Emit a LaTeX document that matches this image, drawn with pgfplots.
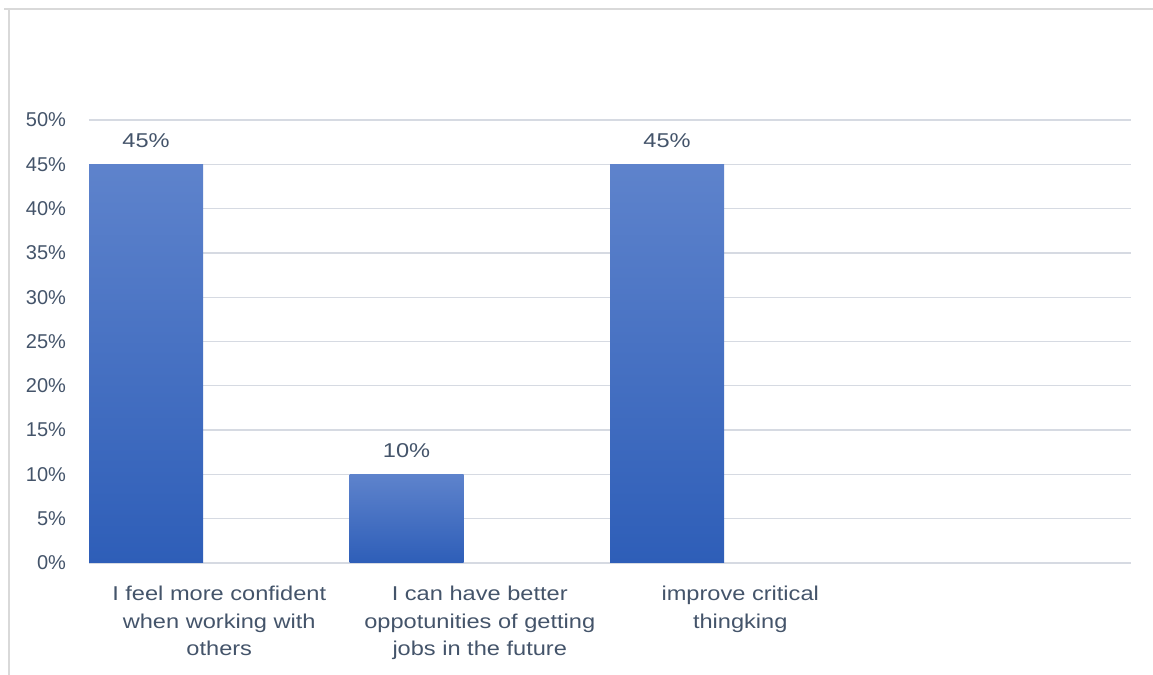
\documentclass[border=0pt]{standalone}
\usepackage{fontspec}
\setmainfont{Liberation Sans}
\newfontfamily\widefont{Liberation Sans}[FakeStretch=1.18]
\usepackage{pgfplots}
\pgfplotsset{compat=1.18}
\definecolor{txt}{HTML}{44546A}
\definecolor{grid}{HTML}{D6DAE2}
\definecolor{frame}{HTML}{D9D9D9}
\definecolor{bartop}{HTML}{5E83CC}
\definecolor{barbot}{HTML}{2E5EB8}
\pgfplotsset{mybar/.style={ybar, bar width=57pt, bar shift=-36.6pt, draw=none, top color=bartop, bottom color=barbot}}
\begin{document}
\begin{tikzpicture}
\useasboundingbox (0,0) rectangle (576.5pt,337.5pt);
\draw[frame, line width=1pt] (2pt,333pt) -- (576.5pt,333pt);
\draw[frame, line width=1pt] (4.25pt,333pt) -- (4.25pt,0pt);
\begin{axis}[
  at={(44.5pt,56pt)}, anchor=south west,
  scale only axis, width=521pt, height=221.5pt,
  xmin=-0.5, xmax=3.5, ymin=0, ymax=50,
  axis line style={draw=none},
  tick style={draw=none},
  ymajorgrids, grid style={color=grid, line width=0.6pt},
  ytick={0,5,...,50},
  yticklabel={\pgfmathprintnumber{\tick}\%},
  /pgf/number format/assume math mode=true,
  yticklabel style={font=\fontsize{10}{12}\selectfont, text=txt, xshift=-8pt},
  xtick={0,1,2},
  xticklabels={{I feel more confident\\when working with\\others},
               {I can have better\\oppotunities of getting\\jobs in the future},
               {improve critical\\thingking}},
  xticklabel style={font=\widefont\fontsize{10}{13.75}\selectfont, text=txt, align=center, yshift=-8pt},
  nodes near coords={\pgfmathprintnumber{\pgfplotspointmeta}\%},
  every node near coord/.append style={font=\widefont\fontsize{10}{12}\selectfont, text=txt, yshift=5pt, xshift=-36.6pt},
  clip=false,
]
\addplot[mybar] coordinates {(0,45)};
\addplot[mybar] coordinates {(1,10)};
\addplot[mybar] coordinates {(2,45)};
\end{axis}
\end{tikzpicture}
\end{document}
